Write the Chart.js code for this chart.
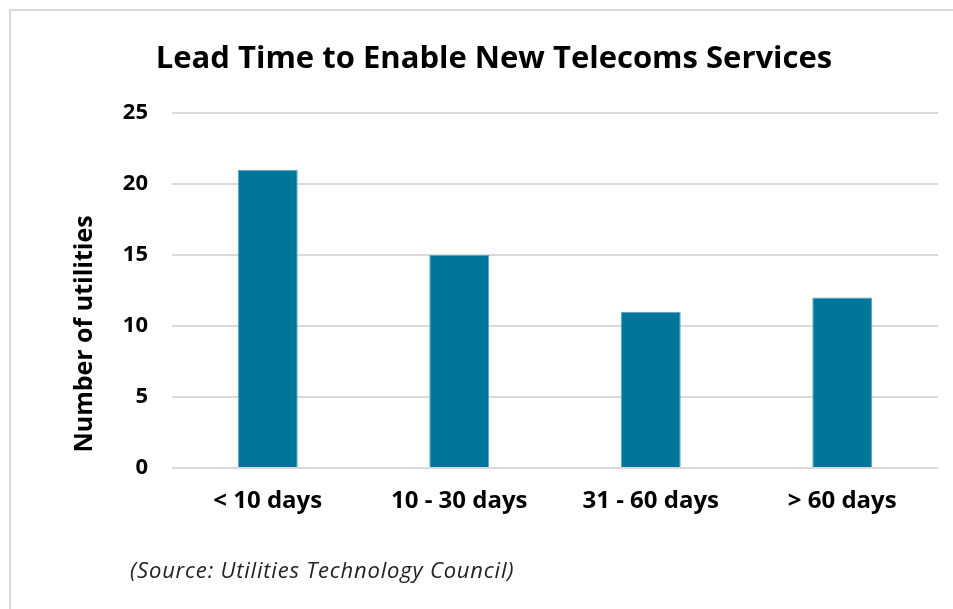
<!DOCTYPE html>
<html>
<head>
<meta charset="utf-8">
<script src="https://cdn.jsdelivr.net/npm/chart.js@4/dist/chart.umd.min.js"></script>
<style>
  html, body { margin: 0; padding: 0; background: #fff; }
  #wrap { position: relative; width: 953px; height: 609px; overflow: hidden; }
  #frame {
    position: absolute; left: 9px; top: 9px; width: 960px; height: 620px;
    border-top: 2px solid #d9d9d9; border-left: 2px solid #d9d9d9;
  }
  #chart { position: absolute; left: 0; top: 0; }
</style>
</head>
<body>
<div id="wrap">
  <div id="frame"></div>
  <canvas id="chart" width="953" height="609"></canvas>
</div>
<script>
const categories = ["< 10 days", "10 - 30 days", "31 - 60 days", "> 60 days"];
const utilities = [21, 15, 11, 12];
const yTicks = [0, 5, 10, 15, 20, 25];

const titleText = "Lead Time to Enable New Telecoms Services";
const yTitleText = "Number of utilities";
const sourceText = "(Source: Utilities Technology Council)";

const FONT = "'Open Sans'";

// title, rotated axis title and source note sit off-centre, so draw them here
const textPlugin = {
  id: "chartText",
  afterDraw(chart) {
    const ctx = chart.ctx;
    ctx.save();
    ctx.fillStyle = "#000";
    ctx.textBaseline = "middle";

    ctx.textAlign = "center";
    ctx.font = `bold 31px ${FONT}`;
    ctx.fillText(titleText, 494, 59);

    ctx.save();
    ctx.translate(85, 334);
    ctx.rotate(-Math.PI / 2);
    ctx.font = `bold 25px ${FONT}`;
    ctx.fillText(yTitleText, 0, 0);
    ctx.restore();

    ctx.textAlign = "left";
    ctx.fillStyle = "#222";
    ctx.font = `italic 22px ${FONT}`;
    ctx.letterSpacing = "0.8px";
    ctx.fillText(sourceText, 130, 572);
    ctx.restore();
  }
};

new Chart(document.getElementById("chart"), {
  type: "bar",
  data: {
    labels: categories,
    datasets: [{
      label: yTitleText,
      data: utilities,
      backgroundColor: "#00779a",
      borderColor: "#5aa3bb",
      borderWidth: 1,
      categoryPercentage: 1,
      barPercentage: 0.313
    }]
  },
  plugins: [textPlugin],
  options: {
    responsive: false,
    animation: false,
    layout: { padding: { left: 10, right: 15, top: 113, bottom: 0 } },
    plugins: {
      legend: { display: false },
      tooltip: { enabled: false },
      title: { display: false }
    },
    scales: {
      x: {
        grid: { display: false, drawTicks: false },
        border: { display: false },
        ticks: {
          color: "#000",
          padding: 19,
          font: { family: FONT, size: 24, weight: "bold" }
        },
        afterFit: (s) => { s.height = 141; }
      },
      y: {
        min: 0,
        max: 25,
        afterBuildTicks: (s) => { s.ticks = yTicks.map(v => ({ value: v })); },
        grid: { color: "#d9d9d9", lineWidth: 2, drawTicks: false },
        border: { display: false },
        ticks: {
          color: "#000",
          padding: 24,
          font: { family: FONT, size: 22, weight: "bold" }
        },
        afterFit: (s) => { s.width = 162; }
      }
    }
  }
});
</script>
</body>
</html>
